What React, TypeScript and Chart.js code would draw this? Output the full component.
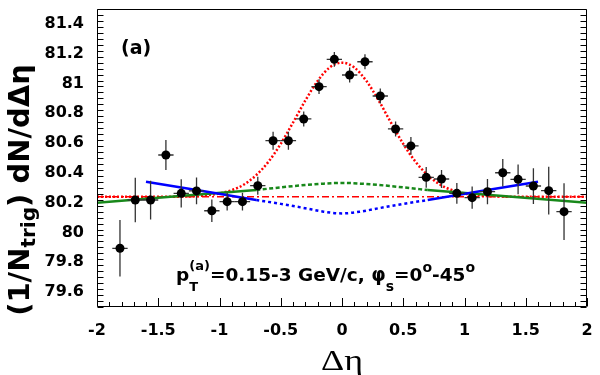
import React, { useEffect, useRef } from "react";
import { Chart, registerables } from "chart.js";

Chart.register(...registerables);

// ---- data ----
const binCenters = [-1.8125, -1.6875, -1.5625, -1.4375, -1.3125, -1.1875, -1.0625, -0.9375, -0.8125, -0.6875, -0.5625, -0.4375, -0.3125, -0.1875, -0.0625, 0.0625, 0.1875, 0.3125, 0.4375, 0.5625, 0.6875, 0.8125, 0.9375, 1.0625, 1.1875, 1.3125, 1.4375, 1.5625, 1.6875, 1.8125];
const yields = [79.894, 80.218, 80.218, 80.52, 80.263, 80.279, 80.146, 80.207, 80.207, 80.314, 80.616, 80.616, 80.762, 80.979, 81.162, 81.057, 81.146, 80.916, 80.695, 80.581, 80.37, 80.359, 80.263, 80.234, 80.274, 80.401, 80.357, 80.312, 80.281, 80.14];
const yieldErrors = [0.19, 0.15, 0.13, 0.1, 0.095, 0.09, 0.075, 0.06, 0.06, 0.06, 0.06, 0.06, 0.05, 0.05, 0.05, 0.05, 0.05, 0.05, 0.05, 0.06, 0.07, 0.06, 0.07, 0.075, 0.085, 0.093, 0.1, 0.12, 0.16, 0.19];
const binHalfWidth = 0.0625;

// total fit (red dotted)
const fitX = [-2, -1.5, -1.3, -1.2, -1.1, -1.0, -0.9, -0.8, -0.7, -0.6, -0.5, -0.4, -0.3, -0.2, -0.1, 0, 0.1, 0.2, 0.3, 0.4, 0.5, 0.6, 0.7, 0.8, 0.9, 1.0, 1.1, 1.2, 1.3, 1.5, 2];
const fitY = [80.24, 80.24, 80.241, 80.244, 80.25, 80.262, 80.284, 80.322, 80.385, 80.475, 80.595, 80.737, 80.885, 81.016, 81.108, 81.14, 81.108, 81.016, 80.885, 80.737, 80.595, 80.475, 80.385, 80.322, 80.284, 80.262, 80.25, 80.244, 80.241, 80.24, 80.24];

// pedestal (red dash-dot)
const pedX = [-2, 2];
const pedY = [80.24, 80.24];

// green: outer solid, inner dashed
const greenLX = [-2, -0.7];
const greenLY = [80.2, 80.285];
const greenMX = [-0.7, -0.5, -0.3, -0.15, 0, 0.15, 0.3, 0.5, 0.7];
const greenMY = [80.285, 80.303, 80.319, 80.328, 80.333, 80.328, 80.319, 80.303, 80.285];
const greenRX = [0.7, 2];
const greenRY = [80.285, 80.2];

// blue: outer solid, inner dotted
const blueLX = [-1.6, -0.7];
const blueLY = [80.341, 80.218];
const blueMX = [-0.7, -0.5, -0.3, -0.15, 0, 0.15, 0.3, 0.5, 0.7];
const blueMY = [80.218, 80.192, 80.163, 80.14, 80.128, 80.14, 80.163, 80.192, 80.218];
const blueRX = [0.7, 1.6];
const blueRY = [80.218, 80.341];

const xTicks = [-2, -1.5, -1, -0.5, 0, 0.5, 1, 1.5, 2];
const yTicks = [79.6, 79.8, 80, 80.2, 80.4, 80.6, 80.8, 81, 81.2, 81.4];

const pts = (xs: number[], ys: number[]) => xs.map((x, i) => ({ x, y: ys[i] }));
const fmt = (v: number) => String(parseFloat(Number(v).toFixed(2)));

type Run = { t: string; size: number; dy: number; stackWith?: Run };

function drawRuns(ctx: CanvasRenderingContext2D, x: number, y: number, runs: Run[], family: string) {
  for (const r of runs) {
    ctx.font = `bold ${r.size}px ${family}`;
    const w1 = ctx.measureText(r.t).width;
    ctx.fillText(r.t, x, y + r.dy);
    let w = w1;
    if (r.stackWith) {
      ctx.font = `bold ${r.stackWith.size}px ${family}`;
      const w2 = ctx.measureText(r.stackWith.t).width;
      ctx.fillText(r.stackWith.t, x, y + r.stackWith.dy);
      w = Math.max(w1, w2);
    }
    x += w;
  }
  return x;
}

function measureRuns(ctx: CanvasRenderingContext2D, runs: Run[], family: string) {
  let w = 0;
  for (const r of runs) {
    ctx.font = `bold ${r.size}px ${family}`;
    let a = ctx.measureText(r.t).width;
    if (r.stackWith) {
      ctx.font = `bold ${r.stackWith.size}px ${family}`;
      a = Math.max(a, ctx.measureText(r.stackWith.t).width);
    }
    w += a;
  }
  return w;
}

const SANS = '"DejaVu Sans"';

const decorPlugin = {
  id: "decor",
  beforeDatasetDraw(chart: any, args: any) {
    if (args.index !== 0) return;
    const { ctx, scales } = chart;
    const xs = scales.x, ys = scales.y;
    ctx.save();
    ctx.strokeStyle = "#333";
    ctx.lineWidth = 1.3;
    binCenters.forEach((cx, i) => {
      const px = xs.getPixelForValue(cx);
      const py = ys.getPixelForValue(yields[i]);
      const y1 = ys.getPixelForValue(yields[i] + yieldErrors[i]);
      const y2 = ys.getPixelForValue(yields[i] - yieldErrors[i]);
      const x1 = xs.getPixelForValue(cx - binHalfWidth);
      const x2 = xs.getPixelForValue(cx + binHalfWidth);
      ctx.beginPath();
      ctx.moveTo(px, y1);
      ctx.lineTo(px, y2);
      ctx.moveTo(x1, py);
      ctx.lineTo(x2, py);
      ctx.stroke();
    });
    ctx.restore();
  },
  afterDraw(chart: any) {
    const { ctx, chartArea: a, scales } = chart;
    const xs = scales.x, ys = scales.y;
    ctx.save();
    ctx.strokeStyle = "#000";
    ctx.lineWidth = 1;
    const L = Math.round(a.left) + 0.5, R = Math.round(a.right) - 0.5;
    const T = Math.round(a.top) + 0.5, B = Math.round(a.bottom) - 0.5;
    ctx.beginPath();
    ctx.rect(L, T, R - L, B - T);
    ctx.stroke();
    // y ticks (left and right), minor every 0.04
    ctx.beginPath();
    for (let k = 0; k <= 50; k++) {
      const v = 79.5 + k * 0.04;
      const major = yTicks.some((t) => Math.abs(t - v) < 1e-6);
      const len = major ? 12 : 6;
      const py = Math.round(ys.getPixelForValue(v)) + 0.5;
      ctx.moveTo(L, py);
      ctx.lineTo(L + len, py);
      ctx.moveTo(R, py);
      ctx.lineTo(R - len, py);
    }
    // x ticks (bottom), minor every 0.1
    for (let k = 0; k <= 40; k++) {
      const v = -2 + k * 0.1;
      const major = xTicks.some((t) => Math.abs(t - v) < 1e-6);
      const len = major ? 8.5 : 4.5;
      const px = Math.round(xs.getPixelForValue(v)) + 0.5;
      ctx.moveTo(px, B);
      ctx.lineTo(px, B - len);
    }
    ctx.stroke();

    ctx.fillStyle = "#000";
    ctx.textBaseline = "alphabetic";
    ctx.textAlign = "left";
    // panel label
    ctx.font = `bold 19px ${SANS}`;
    ctx.fillText("(a)", 121, 54);

    // annotation
    drawRuns(
      ctx,
      176,
      281,
      [
        { t: "p", size: 18.5, dy: 0 },
        { t: "(a)", size: 13, dy: -11, stackWith: { t: "T", size: 13, dy: 10 } },
        { t: "=0.15-3 GeV/c, ", size: 18.5, dy: 0 },
        { t: "\u03C6", size: 18.5, dy: 0 },
        { t: "s", size: 14, dy: 10 },
        { t: "=0", size: 18.5, dy: 0 },
        { t: "o", size: 14, dy: -9 },
        { t: "-45", size: 18.5, dy: 0 },
        { t: "o", size: 14, dy: -9 },
      ],
      SANS
    );

    // y title (rotated)
    const yRuns: Run[] = [
      { t: "(1/N", size: 29, dy: 0 },
      { t: "trig", size: 20, dy: 6 },
      { t: ") dN/d\u0394\u03B7", size: 29, dy: 0 },
    ];
    const tw = measureRuns(ctx, yRuns, SANS);
    ctx.save();
    ctx.translate(29, 190);
    ctx.rotate(-Math.PI / 2);
    drawRuns(ctx, -tw / 2, 0, yRuns, SANS);
    ctx.restore();

    // x title
    ctx.save();
    ctx.font = `30px "Liberation Serif"`;
    const xt = "\u0394\u03B7";
    const xw = ctx.measureText(xt).width * 1.2;
    const cx = (a.left + a.right) / 2;
    ctx.translate(cx - xw / 2, 370);
    ctx.scale(1.2, 1);
    ctx.fillText(xt, 0, 0);
    ctx.restore();

    ctx.restore();
  },
};

export default function App() {
  const ref = useRef<HTMLCanvasElement | null>(null);
  useEffect(() => {
    if (!ref.current) return;
    const tickFont = { family: SANS, weight: "bold" as const, size: 16, lineHeight: 1 };
    const lineDs = (data: any, color: string, width: number, dash: number[], extra: any = {}) => ({
      type: "line" as const,
      data,
      borderColor: color,
      backgroundColor: color,
      borderWidth: width,
      borderDash: dash,
      pointRadius: 0,
      fill: false,
      cubicInterpolationMode: "monotone" as const,
      ...extra,
    });
    const chart = new Chart(ref.current, {
      type: "line",
      data: {
        datasets: [
          {
            type: "line",
            data: pts(binCenters, yields),
            showLine: false,
            pointRadius: 4.5,
            pointHoverRadius: 4.5,
            pointBackgroundColor: "#000",
            pointBorderWidth: 0,
            borderColor: "#000",
          } as any,
          lineDs(pts(blueLX, blueLY), "#0000ff", 2.5, []),
          lineDs(pts(blueRX, blueRY), "#0000ff", 2.5, []),
          lineDs(pts(blueMX, blueMY), "#0000ff", 2.5, [3, 3]),
          lineDs(pts(greenLX, greenLY), "#18881a", 2.5, []),
          lineDs(pts(greenRX, greenRY), "#18881a", 2.5, []),
          lineDs(pts(greenMX, greenMY), "#18881a", 2.5, [4, 2.5]),
          lineDs(pts(fitX, fitY), "#ff0000", 2.5, [2, 2]),
          lineDs(pts(pedX, pedY), "#ff0000", 1.3, [7, 3, 2, 3]),
        ],
      },
      options: {
        animation: false,
        responsive: false,
        devicePixelRatio: 1,
        events: [],
        layout: { padding: { left: 0, right: 13, top: 9, bottom: 0 } },
        plugins: { legend: { display: false }, tooltip: { enabled: false } },
        scales: {
          x: {
            type: "linear",
            min: -2,
            max: 2,
            grid: { display: false },
            border: { display: false },
            afterBuildTicks: (s: any) => {
              s.ticks = xTicks.map((v) => ({ value: v }));
            },
            afterFit: (s: any) => {
              s.height = 68;
              s.paddingLeft = 0;
              s.paddingRight = 0;
              s.paddingTop = 0;
              s.paddingBottom = 0;
            },
            ticks: {
              font: tickFont,
              color: "#000",
              padding: 8,
              maxRotation: 0,
              minRotation: 0,
              autoSkip: false,
              callback: (v: any) => fmt(v),
            },
          },
          y: {
            type: "linear",
            min: 79.5,
            max: 81.5,
            grid: { display: false },
            border: { display: false },
            afterBuildTicks: (s: any) => {
              s.ticks = yTicks.map((v) => ({ value: v }));
            },
            afterFit: (s: any) => {
              s.width = 97;
              s.paddingLeft = 0;
              s.paddingRight = 0;
              s.paddingTop = 0;
              s.paddingBottom = 0;
            },
            ticks: {
              font: tickFont,
              color: "#000",
              padding: 5,
              autoSkip: false,
              callback: (v: any) => fmt(v),
            },
          },
        },
      } as any,
      plugins: [decorPlugin as any],
    });
    return () => chart.destroy();
  }, []);
  return (
    <div style={{ position: "absolute", left: 0, top: 0, width: 600, height: 375, background: "#fff" }}>
      <canvas ref={ref} width={600} height={375} style={{ display: "block" }} />
    </div>
  );
}
